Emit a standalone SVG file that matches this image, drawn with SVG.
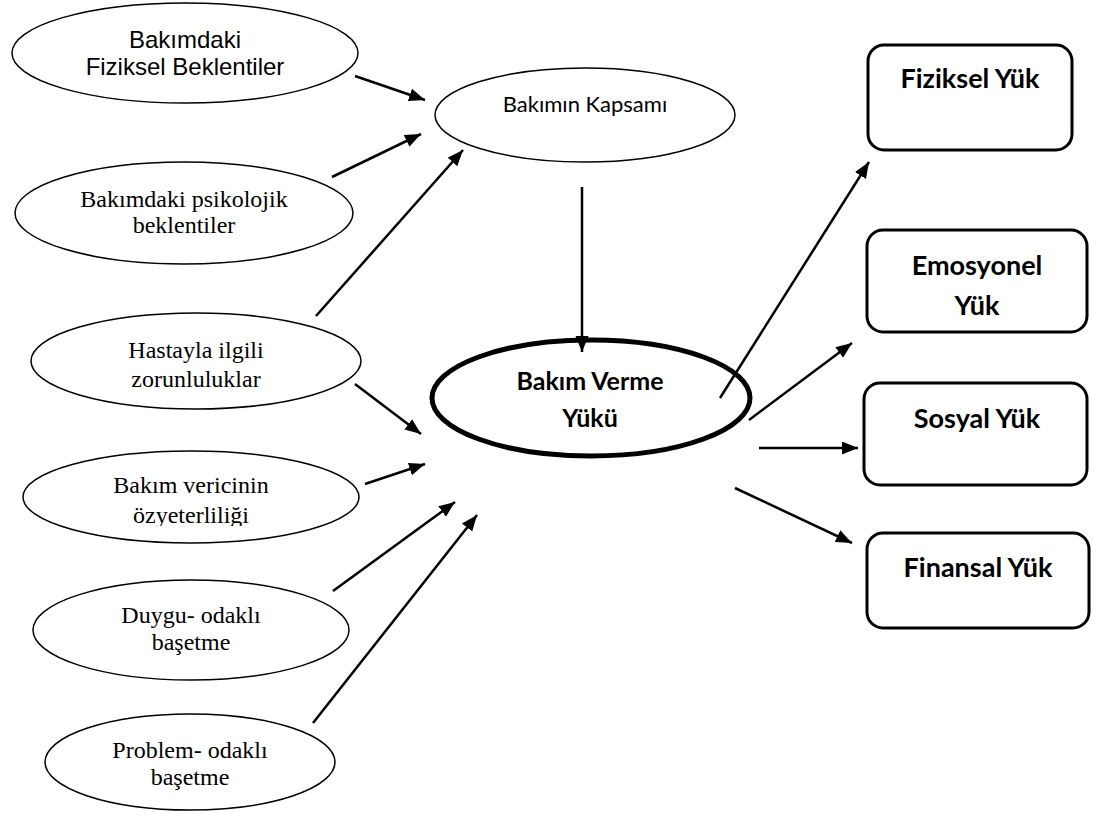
<svg xmlns="http://www.w3.org/2000/svg" width="1101" height="816" viewBox="0 0 1101 816">
<style>
.el{fill:#fff;stroke:#000;stroke-width:1.5}
.big{fill:#fff;stroke:#000;stroke-width:5}
.box{fill:#fff;stroke:#000;stroke-width:3}
.ar{font-family:"Liberation Sans",Arial,sans-serif;font-size:24px;text-anchor:middle;fill:#000}
.tm{font-family:"Liberation Serif","Times New Roman",serif;font-size:24px;text-anchor:middle;fill:#000}
.cb{font-family:Lato,"Open Sans",sans-serif;font-size:22px;text-anchor:middle;fill:#000}
.cbb{font-family:Lato,"Open Sans",sans-serif;font-size:25px;font-weight:bold;text-anchor:middle;fill:#000}
.bx{font-family:Lato,"Open Sans",sans-serif;font-size:27px;font-weight:bold;text-anchor:middle;fill:#000}
.cn line{stroke:#000;stroke-width:2.5;marker-end:url(#ah)}
</style>
<defs>
<marker id="ah" markerUnits="userSpaceOnUse" markerWidth="17" markerHeight="14" refX="16" refY="6.5" orient="auto">
<path d="M0,0 L16,6.5 L0,13 Z" fill="#000"/>
</marker>
<clipPath id="c4"><rect x="0" y="440" width="400" height="86"/></clipPath>
</defs>
<rect width="1101" height="816" fill="#fff"/>
<g id="n1"><ellipse class="el" cx="185" cy="53" rx="173" ry="50"/><text class="ar" x="185" y="48">Bakımdaki</text><text class="ar" x="185" y="75">Fiziksel Beklentiler</text></g>
<g id="n2"><ellipse class="el" cx="184" cy="213" rx="169" ry="51"/><text class="tm" x="184" y="207">Bakımdaki psikolojik</text><text class="tm" x="184" y="233">beklentiler</text></g>
<g id="n3"><ellipse class="el" cx="196" cy="361" rx="165" ry="48"/><text class="tm" x="196" y="358">Hastayla ilgili</text><text class="tm" x="196" y="387">zorunluluklar</text></g>
<g id="n4"><ellipse class="el" cx="191" cy="497" rx="168" ry="46"/><g clip-path="url(#c4)"><text class="tm" x="191" y="493">Bakım vericinin</text><text class="tm" x="191" y="523">özyeterliliği</text></g></g>
<g id="n5"><ellipse class="el" cx="191" cy="630" rx="158" ry="50"/><text class="tm" x="191" y="623">Duygu- odaklı</text><text class="tm" x="191" y="650">başetme</text></g>
<g id="n6"><ellipse class="el" cx="190" cy="762" rx="145" ry="48"/><text class="tm" x="190" y="758">Problem- odaklı</text><text class="tm" x="190" y="785">başetme</text></g>
<g id="kapsam"><ellipse class="el" cx="585" cy="115" rx="150" ry="47"/><text class="cb" x="585" y="112">Bakımın Kapsamı</text></g>
<g id="yuk"><ellipse class="big" cx="591" cy="398" rx="159" ry="58"/><text class="cbb" x="590" y="390">Bakım Verme</text><text class="cbb" x="590" y="427">Yükü</text></g>
<g id="fiz"><rect class="box" x="868" y="45" width="204" height="105" rx="16"/><text class="bx" x="970" y="88">Fiziksel Yük</text></g>
<g id="emo"><rect class="box" x="867" y="230" width="220" height="102" rx="16"/><text class="bx" x="977" y="275">Emosyonel</text><text class="bx" x="977" y="315">Yük</text></g>
<g id="sos"><rect class="box" x="864" y="383" width="223" height="102" rx="16"/><text class="bx" x="977" y="428">Sosyal Yük</text></g>
<g id="fin"><rect class="box" x="867" y="533" width="222" height="95" rx="16"/><text class="bx" x="978" y="577">Finansal Yük</text></g>
<g class="cn" id="connectors">
<line x1="355" y1="76" x2="425" y2="100"/>
<line x1="332" y1="177" x2="421" y2="134"/>
<line x1="316" y1="316" x2="463" y2="150"/>
<line x1="355" y1="384" x2="421" y2="434"/>
<line x1="365" y1="484" x2="425" y2="464"/>
<line x1="333" y1="591" x2="455" y2="502"/>
<line x1="313" y1="723" x2="477" y2="515"/>
<line x1="582" y1="187" x2="582" y2="352"/>
<line x1="720" y1="398" x2="869" y2="162"/>
<line x1="749" y1="420" x2="852" y2="343"/>
<line x1="759" y1="448" x2="858" y2="448"/>
<line x1="735" y1="488" x2="852" y2="543"/>
</g>
</svg>
